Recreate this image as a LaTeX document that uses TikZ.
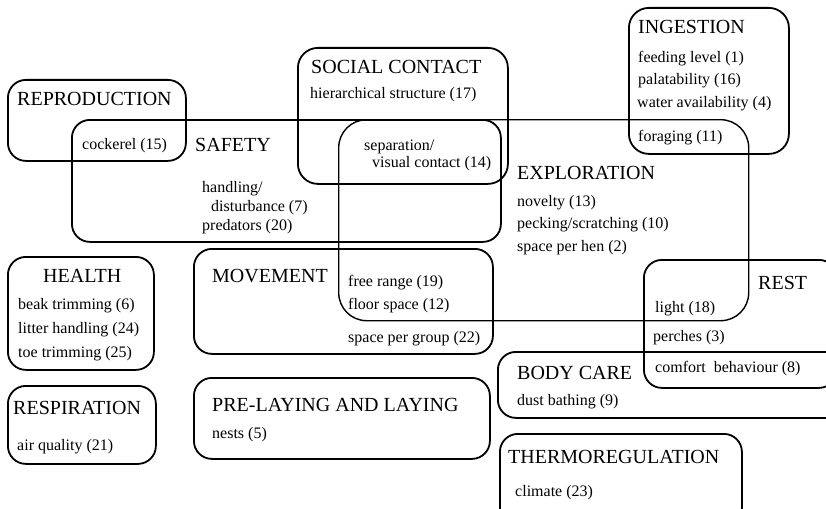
\documentclass[tikz,border=0pt]{standalone}
\usepackage{fontspec}
\setmainfont{Liberation Serif}
\begin{document}
\begin{tikzpicture}[x=1pt,y=-1pt,
  box/.style={draw=black,line width=1.8pt,rounded corners=18pt,anchor=north west,inner sep=0pt},
  bigbox/.style={draw=black,line width=1.4pt,rounded corners=28pt,anchor=north west,inner sep=0pt},
  head/.style={anchor=base west,inner sep=0pt,font=\fontsize{20}{24}\selectfont},
  item/.style={anchor=base west,inner sep=0pt,font=\fontsize{16}{19}\selectfont}]
\useasboundingbox (0,0) rectangle (826,508);
\clip (0,0) rectangle (826,508);
\fill[white] (0,0) rectangle (826,508);
% areas
\node[box,minimum width=178pt,minimum height=81pt] (reprobox) at (7,79) {};
\node[box,minimum width=429pt,minimum height=122pt] (safetybox) at (71,119) {};
\node[box,rounded corners=20pt,minimum width=210pt,minimum height=136pt] (socialbox) at (297,47) {};
\node[box,rounded corners=20pt,minimum width=160pt,minimum height=146pt] (ingestbox) at (628,7) {};
\node[bigbox,minimum width=410pt,minimum height=201pt] (explorebox) at (338,119) {};
\node[box,minimum width=146pt,minimum height=113pt] (healthbox) at (7,256) {};
\node[box,minimum width=299pt,minimum height=105pt] (movebox) at (193,248) {};
\node[box,minimum width=148pt,minimum height=78pt] (respbox) at (7,385) {};
\node[box,minimum width=296pt,minimum height=81pt] (laybox) at (193,377) {};
\node[box,minimum width=193pt,minimum height=128pt] (restbox) at (643,259) {};
\node[box,minimum width=353pt,minimum height=66pt] (carebox) at (497,351) {};
\node[box,minimum width=242pt,minimum height=92pt] (thermobox) at (499,433) {};
% headings
\node[head] (reproh) at (17,105.5) {REPRODUCTION};
\node[head] (safetyh) at (195,151.5) {SAFETY};
\node[head] (socialh) at (311,73.5) {SOCIAL CONTACT};
\node[head] (ingesth) at (638,33.5) {INGESTION};
\node[head] (exploreh) at (517,179.5) {EXPLORATION};
\node[head] (resth) at (758,289.5) {REST};
\node[head] (healthh) at (43,282.5) {HEALTH};
\node[head] (moveh) at (212,282.5) {MOVEMENT};
\node[head] (resph) at (13,414.5) {RESPIRATION};
\node[head] (layh) at (212,411.5) {PRE-LAYING AND LAYING};
\node[head] (careh) at (517,379.5) {BODY CARE};
\node[head] (thermoh) at (508,463.5) {THERMOREGULATION};
% items
\node[item] (i15) at (82,149) {cockerel (15)};
\node[item] (i7a) at (202,192) {handling/};
\node[item] (i7b) at (211,211) {disturbance (7)};
\node[item] (i20) at (202,230) {predators (20)};
\node[item] (i17) at (310,99) {hierarchical structure (17)};
\node[item] (i14a) at (364,150) {separation/};
\node[item] (i14b) at (372,167) {visual contact (14)};
\node[item] (i1) at (638,63) {feeding level (1)};
\node[item] (i16) at (638,85) {palatability (16)};
\node[item] (i4) at (637,107) {water availability (4)};
\node[item] (i11) at (638,141) {foraging (11)};
\node[item] (i13) at (517,206) {novelty (13)};
\node[item] (i10) at (517,228) {pecking/scratching (10)};
\node[item] (i2) at (517,251) {space per hen (2)};
\node[item] (i6) at (18,309) {beak trimming (6)};
\node[item] (i24) at (18,333) {litter handling (24)};
\node[item] (i25) at (18,357) {toe trimming (25)};
\node[item] (i19) at (348,286) {free range (19)};
\node[item] (i12) at (348,309) {floor space (12)};
\node[item] (i22) at (348,342) {space per group (22)};
\node[item] (i21) at (17,450) {air quality (21)};
\node[item] (i5) at (212,438) {nests (5)};
\node[item] (i18) at (655,312) {light (18)};
\node[item] (i3) at (653,341) {perches (3)};
\node[item] (i8) at (655,372) {comfort\ \ behaviour (8)};
\node[item] (i9) at (517,405) {dust bathing (9)};
\node[item] (i23) at (515,496) {climate (23)};
\end{tikzpicture}
\end{document}
